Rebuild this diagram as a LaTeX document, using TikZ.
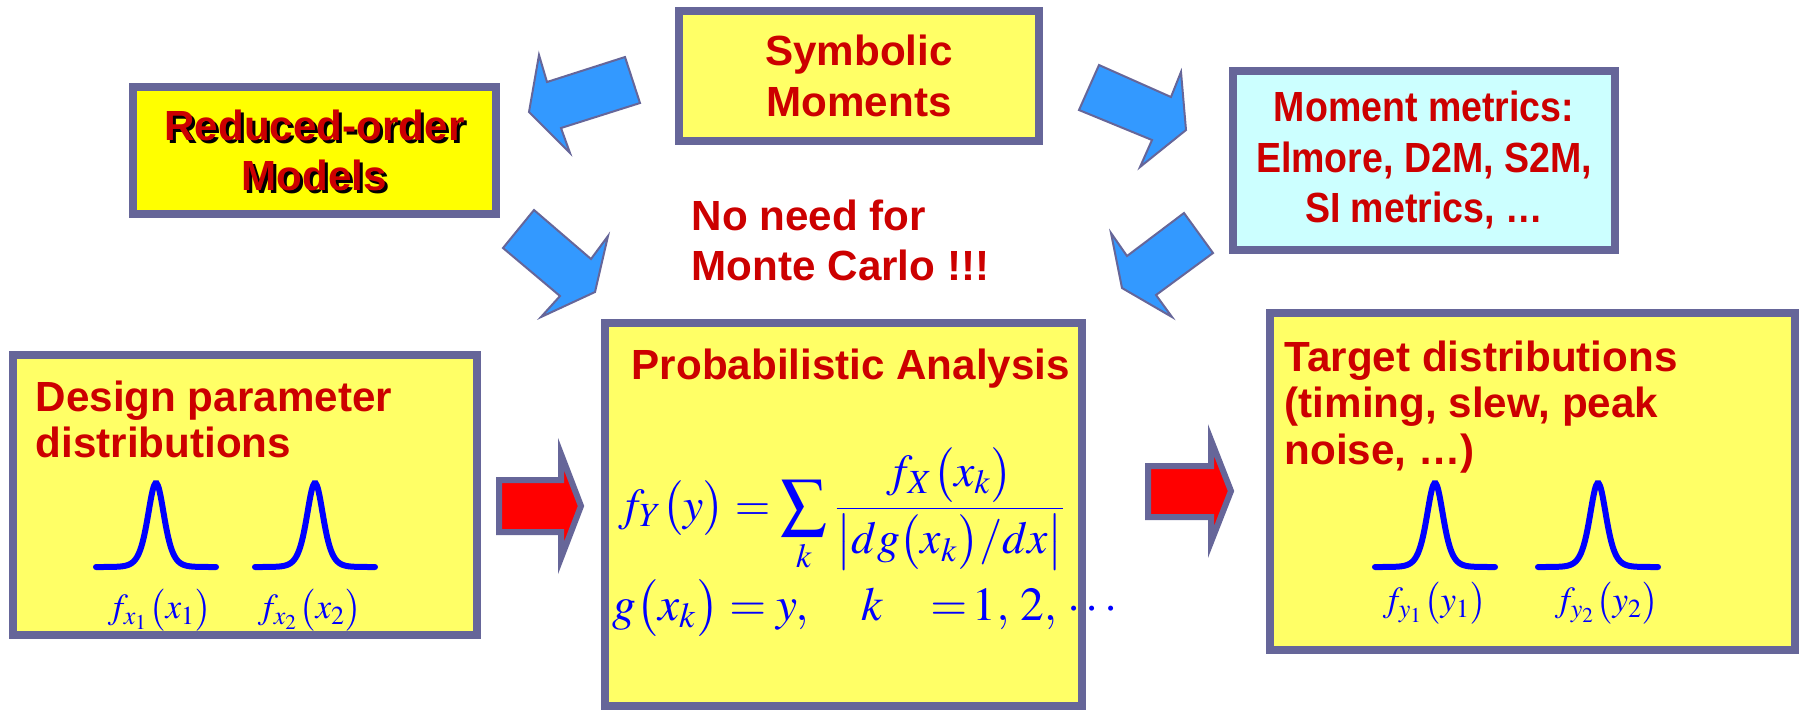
\documentclass[tikz,border=0pt]{standalone}
\usepackage{amsmath}
\usepackage{mathptmx}
\usepackage[no-math]{fontspec}
\setmainfont{Liberation Sans}
\newfontfamily\narrowsans{Liberation Sans}[FakeStretch=0.89]
\usepackage{xcolor}
\usepackage{tikz}
\usetikzlibrary{arrows.meta,positioning}
\newcommand{\hfont}{\fontsize{12}{14.4}\selectfont\bfseries}
\newcommand{\tfont}{\fontsize{12}{13.2}\selectfont\bfseries}
\newcommand{\eqfont}{\fontsize{13}{15}\selectfont}
\newcommand{\lfont}{\fontsize{10}{12}\selectfont}
\definecolor{txtred}{RGB}{204,0,0}
\definecolor{frame}{RGB}{102,102,153}
\definecolor{paleyel}{RGB}{255,255,102}
\definecolor{fullyel}{RGB}{255,255,0}
\definecolor{cyanbg}{RGB}{204,255,255}
\definecolor{arrblue}{RGB}{51,153,255}
\definecolor{arrred}{RGB}{255,0,0}
\definecolor{mathblue}{RGB}{0,0,255}
\begin{document}
\begin{tikzpicture}[x=0.1mm,y=-0.1mm,>=Stealth,font=\hfont]
\tikzset{blk/.style={rectangle,draw=frame,line width=0.8mm,inner sep=0pt,align=center,text=txtred},
  hd/.style={inner sep=0pt,align=left,text=txtred,font=\tfont},
  bar/.style={draw=frame,line width=0.2mm,fill=arrblue},
  fat/.style={draw=frame,line width=0.6mm,fill=arrred},
  eq/.style={inner sep=0pt,text=mathblue,font=\eqfont},
  crv/.style={draw=mathblue,line width=0.6mm,line cap=round},
  bell/.pic={\draw[crv] plot[domain=-60:60,samples=90,smooth] (\x,{-84*(1/cosh(\x/11))^2});}}
\useasboundingbox (0,0) rectangle (1805,711);
\node[blk,fill=paleyel,minimum width=36mm,minimum height=13mm] (sym) at (859,76) {Symbolic\\Moments};
\node[blk,fill=fullyel,minimum width=36.3mm,minimum height=12.7mm] (rom) at (314.5,150.5) {};
\node[align=center,text=black] (romsh) at ([shift={(3,3)}]rom.center) {Reduced-order\\Models};
\node[align=center,text=txtred] (romtx) at (rom.center) {Reduced-order\\Models};
\node[blk,fill=cyanbg,font=\narrowsans\hfont,minimum width=38.2mm,minimum height=17.9mm] (met) at (1424,160) {Moment metrics:\\Elmore, D2M, S2M,\\SI metrics, …};
\node[hd,font=\hfont,anchor=north west] (nmc) at (691,199) {No need for\\Monte Carlo !!!};
\node[blk,fill=paleyel,minimum width=46.4mm,minimum height=28mm] (dp) at (245,495) {};
\node[hd,below right=2.9mm and 2.6mm of dp.north west] (dptx) {Design parameter\\distributions};
\node[blk,fill=paleyel,minimum width=47.7mm,minimum height=38.3mm] (pa) at (843.5,514.5) {};
\node[hd,below right=2.9mm and 3mm of pa.north west] (patx) {Probabilistic Analysis};
\node[blk,fill=paleyel,minimum width=52.5mm,minimum height=33.7mm] (td) at (1532.5,481.5) {};
\node[hd,below right=3.1mm and 1.8mm of td.north west] (tdtx) {Target distributions\\(timing, slew, peak\\noise, …)};
\node[eq] (fy) at (843,510) {$\displaystyle f_{Y}\bigl(y\bigr)=\sum_{k}\frac{f_{X}\bigl(x_{k}\bigr)}{\left|dg\bigl(x_{k}\bigr)/dx\right|}$};
\node[eq,anchor=base west,font=\fontsize{13.5}{15}\selectfont] (gx) at (612,620) {$g\bigl(x_{k}\bigr)=y,\quad k\quad{=}\,1,\,2,\,\cdots$};
\coordinate (bx1) at (156,567);\coordinate (bx2) at (315,567);
\coordinate (by1) at (1435,567);\coordinate (by2) at (1598,567);
\pic at (bx1) {bell};\pic at (bx2) {bell};\pic at (by1) {bell};\pic at (by2) {bell};
\node[eq,font=\lfont] (lx1) at (160,610) {$f_{x_1}\bigl(x_1\bigr)$};
\node[eq,font=\lfont] (lx2) at (310,610) {$f_{x_2}\bigl(x_2\bigr)$};
\node[eq,font=\lfont] (ly1) at (1435,603) {$f_{y_1}\bigl(y_1\bigr)$};
\node[eq,font=\lfont] (ly2) at (1607,603) {$f_{y_2}\bigl(y_2\bigr)$};
\draw[bar] (625,57) -- (640,103) -- (561,128) -- (570,153) -- (529,112) -- (539,55) -- (547,82) -- cycle;
\draw[bar] (1099,65) -- (1171,97) -- (1181,72) -- (1186,130) -- (1140,167) -- (1152,140) -- (1079,110) -- cycle;
\draw[bar] (534,210) -- (591,259) -- (608,236) -- (595,292) -- (541,317) -- (560,296) -- (503,248) -- cycle;
\draw[bar] (1184,213) -- (1213,253) -- (1156,295) -- (1172,317) -- (1122,288) -- (1111,233) -- (1127,256) -- cycle;
\draw[fat] (499,480) -- (561,480) -- (561,454) -- (581,506) -- (561,558) -- (561,532) -- (499,532) -- cycle;
\draw[fat] (1148,466) -- (1211,466) -- (1211,440) -- (1231,491) -- (1211,542) -- (1211,517) -- (1148,517) -- cycle;
\end{tikzpicture}
\end{document}
